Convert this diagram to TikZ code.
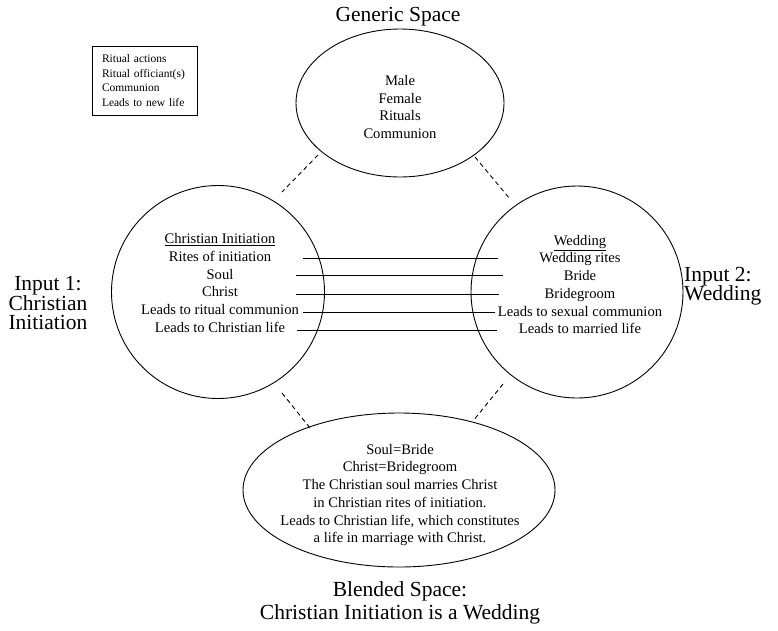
\documentclass[tikz,border=0pt]{standalone}
\usepackage{fontspec}
\setmainfont{Liberation Serif}
\usetikzlibrary{shapes.geometric}
\begin{document}
\begin{tikzpicture}[x=1pt,y=-1pt,
  space/.style={draw=black, line width=0.9pt, inner sep=0pt},
  body/.style={font=\fontsize{14.6}{17.7}\selectfont, align=center, inner sep=0pt},
  title/.style={font=\fontsize{21.5}{19.5}\selectfont, align=center, inner sep=0pt},
  link/.style={line width=0.9pt},
  relation/.style={line width=0.9pt, dash pattern=on 4.5pt off 3.5pt}]
\useasboundingbox (0,0) rectangle (778,630);

% the four mental spaces
\node[space, ellipse, minimum width=208pt, minimum height=148pt] (generic) at (400,103) {};
\node[space, circle, minimum size=213pt] (input1) at (218,292) {};
\node[space, circle, minimum size=212pt] (input2) at (577,292) {};
\node[space, ellipse, minimum width=312pt, minimum height=154pt] (blend) at (399,490) {};

% contents of the spaces
\node[body] (genericText) at (400,107) {Male\\Female\\Rituals\\Communion};
\node[body] (input1Text) at (220,283) {\underline{Christian Initiation}\\Rites of initiation\\Soul\\Christ\\Leads to ritual communion\\Leads to Christian life};
\node[body] (input2Text) at (580,284.5) {\underline{Wedding}\\Wedding rites\\Bride\\Bridegroom\\Leads to sexual communion\\Leads to married life};
\node[body] (blendText) at (400,495) {Soul=Bride\\Christ=Bridegroom\\The Christian soul marries Christ\\in Christian rites of initiation.\\Leads to Christian life, which constitutes\\a life in marriage with Christ.};

% space labels
\node[title] (genericTitle) at (398,17) {Generic Space};
\node[title] (input1Title) at (48,303) {Input 1:\\Christian\\Initiation};
\node[title, align=left, anchor=west] (input2Title) at (684,286) {Input 2:\\Wedding};
\node[title, font=\fontsize{21.5}{23}\selectfont] (blendTitle) at (400,603) {Blended Space:\\Christian Initiation is a Wedding};

% legend of generic structure
\node[draw=black, line width=0.7pt, font=\fontsize{11.5}{14.5}\selectfont, align=left,
      text width=85pt, inner xsep=10pt, minimum height=69pt] (legend) at (144.5,80.5)
  {Ritual actions\\Ritual officiant(s)\\Communion\\Leads to new life};

% cross-space mappings
\coordinate (m1a) at (303,258.3); \coordinate (m1b) at (498,258.3);
\coordinate (m2a) at (296,275);   \coordinate (m2b) at (503,275);
\coordinate (m3a) at (296,294.3); \coordinate (m3b) at (499,294.3);
\coordinate (m4a) at (303,312.3); \coordinate (m4b) at (495,312.3);
\coordinate (m5a) at (297,330.7); \coordinate (m5b) at (497,330.7);
\draw[link] (m1a) -- (m1b);
\draw[link] (m2a) -- (m2b);
\draw[link] (m3a) -- (m3b);
\draw[link] (m4a) -- (m4b);
\draw[link] (m5a) -- (m5b);

% links between spaces
\coordinate (g1) at (318,155); \coordinate (i1top) at (282,192);
\coordinate (g2) at (475,157); \coordinate (i2top) at (510,199);
\coordinate (i1bot) at (282,393); \coordinate (b1) at (310,428);
\coordinate (i2bot) at (503,384); \coordinate (b2) at (473,421);
\draw[relation] (g1) -- (i1top);
\draw[relation] (g2) -- (i2top);
\draw[relation] (i1bot) -- (b1);
\draw[relation] (i2bot) -- (b2);
\end{tikzpicture}
\end{document}
